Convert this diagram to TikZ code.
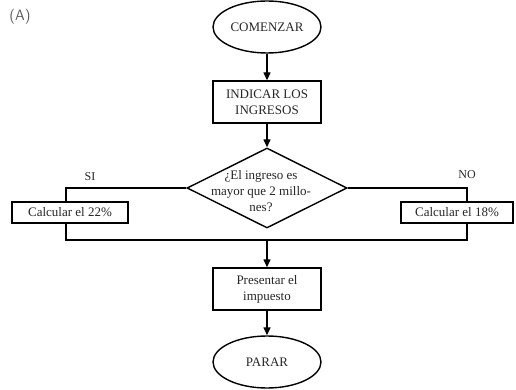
\documentclass[tikz,border=0pt]{standalone}
\usepackage{fontspec}
\setmainfont{Liberation Serif}
\usetikzlibrary{shapes.geometric,arrows.meta}
\begin{document}
\begin{tikzpicture}[x=1pt,y=-1pt,
  every node/.style={font=\fontsize{13}{16}\selectfont, text=black!85},
  line/.style={draw=black, line width=1.4pt},
  arrowline/.style={line, -{Triangle[length=8pt,width=7pt]}},
  terminal/.style={ellipse, draw=black, line width=1.4pt, minimum width=108pt, minimum height=52pt, inner sep=0pt},
  process/.style={rectangle, draw=black, line width=1.4pt, minimum width=108pt, minimum height=42pt, inner sep=0pt, align=center},
  calcbox/.style={rectangle, draw=black, line width=1.4pt, minimum height=21pt, inner sep=0pt},
  decision/.style={diamond, draw=black, line width=1.4pt, minimum width=160pt, minimum height=80pt, inner sep=0pt},
  branchlabel/.style={font=\fontsize{12}{14}\selectfont}]
\useasboundingbox (0,0) rectangle (516,390);

\node[font=\sffamily\fontsize{15}{17}\selectfont, text=black!65] (tag) at (20,17) {(A)};

\node[terminal] (start) at (267,27) {COMENZAR};
\node[process] (input) at (267,102) {INDICAR LOS\\INGRESOS};
\node[decision] (test) at (267,188) {};
\node[align=center] (testtext) at (261,191) {¿El ingreso es\\mayor que 2 millo-\\nes?};
\node[calcbox, minimum width=116pt] (low) at (70,212.5) {Calcular el 22\%};
\node[calcbox, minimum width=112pt] (high) at (457,212.5) {Calcular el 18\%};
\node[process] (show) at (267,289) {Presentar el\\impuesto};
\node[terminal] (stop) at (267,362) {PARAR};

\node[branchlabel] (yes) at (90,177) {SI};
\node[branchlabel] (no) at (467,175) {NO};

\coordinate (lowtop) at ([xshift=-4pt]low.north);
\coordinate (lowbot) at ([xshift=-4pt]low.south);
\coordinate (hightop) at ([xshift=10pt]high.north);
\coordinate (highbot) at ([xshift=10pt]high.south);
\coordinate (merge) at (267,240);

\draw[arrowline] (start) -- (input);
\draw[arrowline] (input) -- (test.north);
\draw[line] (test.west) -| (lowtop);
\draw[line] (test.east) -| (hightop);
\draw[line] (lowbot) |- (merge) -| (highbot);
\draw[arrowline] (merge) -- (show);
\draw[arrowline] (show) -- (stop);
\end{tikzpicture}
\end{document}
